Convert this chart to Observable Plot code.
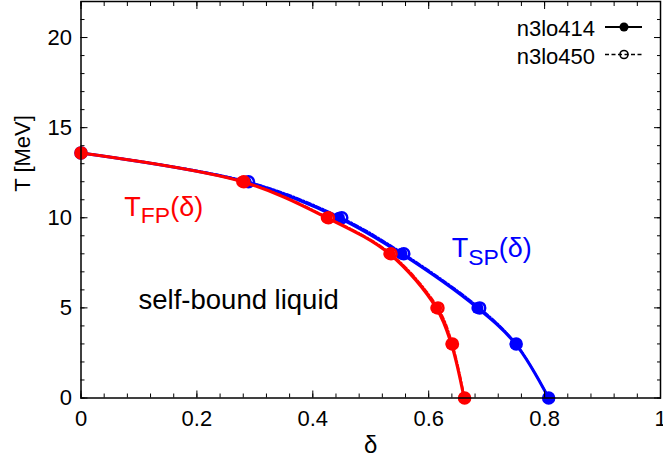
<!DOCTYPE html>
<html>
<head>
<meta charset="utf-8">
<script src="https://cdn.jsdelivr.net/npm/d3@7"></script>
<script src="https://cdn.jsdelivr.net/npm/@observablehq/plot@0.6"></script>
<style>
html, body { margin: 0; padding: 0; background: #fff; }
#chart { width: 663px; height: 459px; }
</style>
</head>
<body>
<div id="chart"></div>
<script>
// Temperatures (MeV) at which the markers are placed
const temperatures = [13.6, 12, 10, 8, 5, 3, 0];
// flashing point (FP) and spinodal point (SP) asymmetries, per interaction
const deltaFP_n3lo414 = [0, 0.278, 0.424, 0.532, 0.613, 0.639, 0.661];
const deltaSP_n3lo414 = [0, 0.284, 0.445, 0.553, 0.684, 0.750, 0.807];
const deltaFP_n3lo450 = [0, 0.281, 0.427, 0.535, 0.616, 0.641, 0.662];
const deltaSP_n3lo450 = [0, 0.289, 0.450, 0.557, 0.688, 0.751, 0.807];

const xMajorTicks = [0, 0.2, 0.4, 0.6, 0.8, 1];
const yMajorTicks = [0, 5, 10, 15, 20];
const legendLabels = ["n3lo414", "n3lo450"];
const labelFP = "T_FP(δ)";
const labelSP = "T_SP(δ)";
const labelRegion = "self-bound liquid";
const xLabel = "δ";
const yLabel = "T [MeV]";

const RED = "#ff0000", BLUE = "#0000ff";
const rows = deltas => temperatures.map((T, i) => ({delta: deltas[i], T}));
const fp414 = rows(deltaFP_n3lo414), sp414 = rows(deltaSP_n3lo414);
const fp450 = rows(deltaFP_n3lo450), sp450 = rows(deltaSP_n3lo450);

const xMinor = d3.range(0, 1.0001, 0.04);
const yMinor = d3.range(0, 22.0001, 1);
const DASH = "5,2,1.5,2";
const curve = "catmull-rom";

const chart = Plot.plot({
  width: 663, height: 459,
  marginLeft: 80.5, marginRight: 3, marginTop: 1, marginBottom: 61.5,
  x: {domain: [0, 1]},
  y: {domain: [0, 22]},
  style: {fontFamily: "'Liberation Sans', Arial, Helvetica, sans-serif", fontSize: "22px", background: "#fff", color: "#000"},
  marks: [
    // series: n3lo414 SP, n3lo450 SP, n3lo450 FP, n3lo414 FP
    Plot.line(sp414, {x: "delta", y: "T", stroke: BLUE, strokeWidth: 3, curve}),
    Plot.dot(sp414, {x: "delta", y: "T", r: 6, fill: BLUE, stroke: null}),
    Plot.line(sp450, {x: "delta", y: "T", stroke: BLUE, strokeWidth: 2, strokeDasharray: DASH, curve}),
    Plot.dot(sp450, {x: "delta", y: "T", r: 5.5, fill: "none", stroke: BLUE, strokeWidth: 2.5}),
    Plot.line(fp450, {x: "delta", y: "T", stroke: RED, strokeWidth: 2, strokeDasharray: DASH, curve}),
    Plot.dot(fp450, {x: "delta", y: "T", r: 5.5, fill: "none", stroke: RED, strokeWidth: 2.5}),
    Plot.line(fp414, {x: "delta", y: "T", stroke: RED, strokeWidth: 3, curve}),
    Plot.dot(fp414, {x: "delta", y: "T", r: 6, fill: RED, stroke: null}),

    // frame and inward ticks on all sides
    Plot.frame({stroke: "#000", strokeWidth: 1.5}),
    Plot.axisX({ticks: xMajorTicks, anchor: "bottom", tickSize: 0, tickPadding: 12, tickFormat: d => String(d), label: null}),
    Plot.axisY({ticks: yMajorTicks, anchor: "left", tickSize: 0, tickPadding: 9, tickFormat: d => String(d), label: null}),
    Plot.axisX({ticks: xMajorTicks, anchor: "bottom", tickSize: -7, fill: "none", label: null}),
    Plot.axisX({ticks: xMinor, anchor: "bottom", tickSize: -4, fill: "none", label: null}),
    Plot.axisX({ticks: xMajorTicks, anchor: "top", tickSize: -7, fill: "none", label: null}),
    Plot.axisX({ticks: xMinor, anchor: "top", tickSize: -4, fill: "none", label: null}),
    Plot.axisY({ticks: yMajorTicks, anchor: "left", tickSize: -7, fill: "none", label: null}),
    Plot.axisY({ticks: yMinor, anchor: "left", tickSize: -4, fill: "none", label: null}),
    Plot.axisY({ticks: yMajorTicks, anchor: "right", tickSize: -7, fill: "none", label: null}),
    Plot.axisY({ticks: yMinor, anchor: "right", tickSize: -4, fill: "none", label: null}),

    // axis titles
    Plot.text([yLabel], {frameAnchor: "left", rotate: -90, dx: -58, dy: -8, fontSize: 22}),
    Plot.text([xLabel], {frameAnchor: "bottom", lineAnchor: "middle", dy: 47, fontSize: 24}),

    // annotations
    Plot.text([labelFP], {x: 0.0748, y: 10.6, textAnchor: "start", fill: RED, fontSize: 27}),
    Plot.text([labelSP], {x: 0.6397, y: 8.28, textAnchor: "start", fill: BLUE, fontSize: 27}),
    Plot.text([labelRegion], {x: 0.0993, y: 5.44, textAnchor: "start", fill: "#000", fontSize: 27.5})
  ]
});

document.getElementById("chart").appendChild(chart);

// subscripts for the T_FP / T_SP labels
const svg = d3.select(chart);
svg.selectAll("text").filter(function() { return this.textContent === labelFP || this.textContent === labelSP; })
  .each(function() {
    const [main, rest] = this.textContent.split("_");
    const sub = rest.slice(0, 2), tail = rest.slice(2);
    const t = d3.select(this);
    t.text(null);
    t.append("tspan").text(main);
    t.append("tspan").attr("font-size", "0.85em").attr("dy", "0.33em").text(sub);
    t.append("tspan").attr("dy", "-0.28em").text(tail);
  });

// key (top right, inside the frame)
const key = svg.append("g").attr("font-family", "'Liberation Sans', Arial, Helvetica, sans-serif").attr("font-size", 22);
const keyRows = [
  {label: legendLabels[0], y: 27, dash: null, width: 2, filled: true},
  {label: legendLabels[1], y: 54.5, dash: "4,2.5", width: 1.5, filled: false}
];
keyRows.forEach(k => {
  key.append("text").attr("x", 595).attr("y", k.y + 1.5).attr("dy", "0.35em").attr("text-anchor", "end").text(k.label);
  key.append("line").attr("x1", 605).attr("x2", 642).attr("y1", k.y).attr("y2", k.y)
    .attr("stroke", "#000").attr("stroke-width", k.width).attr("stroke-dasharray", k.dash);
  key.append("circle").attr("cx", 624).attr("cy", k.y).attr("r", k.filled ? 4.5 : 4)
    .attr("fill", k.filled ? "#000" : "none").attr("stroke", "#000").attr("stroke-width", k.filled ? 0 : 1.6);
});
</script>
</body>
</html>
